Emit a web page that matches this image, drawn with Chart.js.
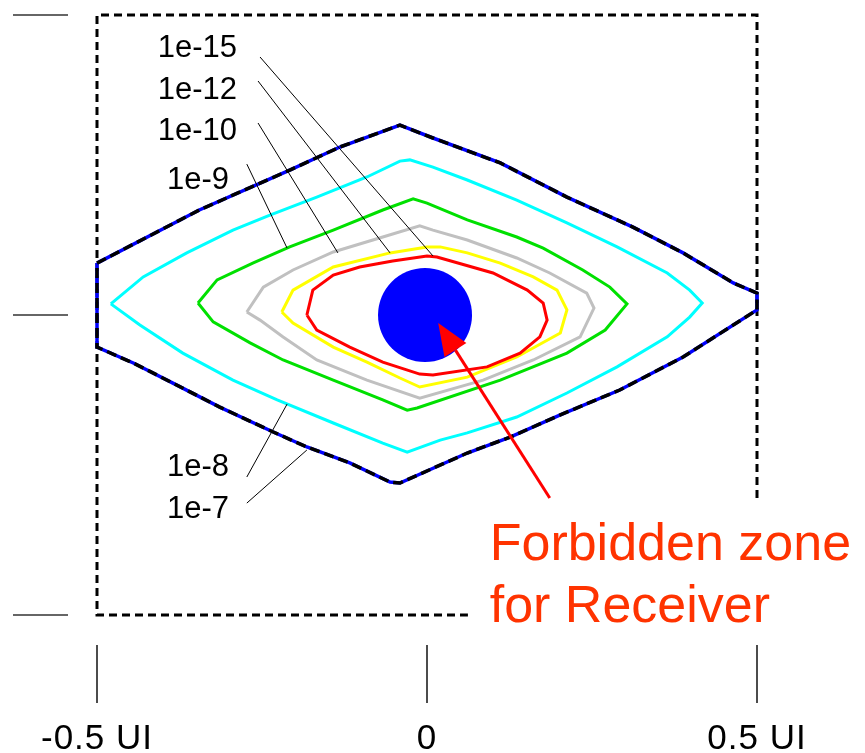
<!DOCTYPE html>
<html>
<head>
<meta charset="utf-8">
<script src="https://cdn.jsdelivr.net/npm/chart.js@4.4.0/dist/chart.umd.min.js"></script>
<style>
  html, body { margin: 0; padding: 0; background: #fff; }
</style>
</head>
<body>
<canvas id="eyeChart" width="865" height="753"></canvas>
<script>
// eye contours, x in UI and y in normalised amplitude (-1..1)
const ber7X = [-0.5, -0.345, -0.208, -0.132, -0.041, 0.009, 0.111, 0.212, 0.312, 0.388, 0.464, 0.5, 0.5, 0.388, 0.292, 0.202, 0.126, 0.061, -0.041, -0.056, -0.117, -0.182, -0.233, -0.314, -0.385, -0.445, -0.5, -0.5];
const ber7Y = [0.173, 0.35, 0.483, 0.56, 0.633, 0.59, 0.507, 0.393, 0.293, 0.207, 0.107, 0.073, 0.017, -0.14, -0.25, -0.333, -0.407, -0.46, -0.56, -0.557, -0.493, -0.44, -0.39, -0.307, -0.227, -0.16, -0.107, 0.173];

const ber8X = [-0.479, -0.43, -0.364, -0.294, -0.238, -0.167, -0.091, -0.041, -0.026, 0.009, 0.061, 0.136, 0.212, 0.288, 0.364, 0.398, 0.417, 0.398, 0.364, 0.288, 0.212, 0.136, 0.061, 0.02, -0.03, -0.067, -0.142, -0.227, -0.294, -0.37, -0.435, -0.479];
const ber8Y = [0.037, 0.127, 0.207, 0.283, 0.333, 0.393, 0.46, 0.513, 0.517, 0.493, 0.45, 0.383, 0.307, 0.227, 0.14, 0.083, 0.04, -0.007, -0.073, -0.173, -0.26, -0.34, -0.393, -0.417, -0.457, -0.427, -0.36, -0.283, -0.217, -0.127, -0.033, 0.037];

const ber9X = [-0.347, -0.318, -0.264, -0.208, -0.142, -0.067, -0.021, 0.0, 0.061, 0.136, 0.176, 0.236, 0.277, 0.303, 0.27, 0.212, 0.111, -0.015, -0.03, -0.067, -0.142, -0.218, -0.268, -0.324, -0.347];
const ber9Y = [0.04, 0.117, 0.173, 0.227, 0.283, 0.35, 0.387, 0.373, 0.317, 0.26, 0.223, 0.15, 0.093, 0.037, -0.05, -0.127, -0.217, -0.31, -0.317, -0.283, -0.217, -0.15, -0.093, -0.023, 0.04];

const ber10X = [-0.273, -0.248, -0.203, -0.142, -0.067, -0.011, 0.009, 0.061, 0.136, 0.186, 0.242, 0.253, 0.232, 0.161, 0.085, -0.011, -0.091, -0.167, -0.218, -0.253, -0.273];
const ber10Y = [0.01, 0.093, 0.15, 0.21, 0.26, 0.297, 0.283, 0.25, 0.19, 0.14, 0.073, 0.023, -0.073, -0.15, -0.217, -0.277, -0.217, -0.15, -0.073, -0.017, 0.01];

const ber12X = [-0.22, -0.203, -0.142, -0.056, 0.0, 0.02, 0.061, 0.111, 0.161, 0.197, 0.212, 0.202, 0.136, 0.061, -0.011, -0.041, -0.091, -0.142, -0.203, -0.22];
const ber12Y = [0.01, 0.083, 0.16, 0.207, 0.227, 0.227, 0.207, 0.173, 0.127, 0.083, 0.017, -0.06, -0.14, -0.207, -0.24, -0.21, -0.157, -0.107, -0.027, 0.01];

const ber15X = [-0.182, -0.173, -0.142, -0.102, -0.052, 0.0, 0.015, 0.1, 0.152, 0.176, 0.182, 0.171, 0.141, 0.091, 0.009, -0.011, -0.067, -0.117, -0.167, -0.182];
const ber15Y = [0.0, 0.083, 0.133, 0.16, 0.18, 0.197, 0.193, 0.14, 0.083, 0.04, -0.017, -0.073, -0.127, -0.173, -0.2, -0.197, -0.157, -0.107, -0.05, 0.0];

// receiver forbidden zone centre
const zoneX = [-0.003];
const zoneY = [0.0];

// outline of the eye mask box (open at the bottom right where the note sits)
const boxX = [0.5, 0.5, -0.5, -0.5, 0.062];
const boxY = [-0.61, 1, 1, -1, -1];

const berLabels = ['1e-15', '1e-12', '1e-10', '1e-9', '1e-8', '1e-7'];
const xTickValues = [-0.5, 0, 0.5];
const xTickLabels = ['-0.5 UI', '0', '0.5 UI'];
const yTickValues = [1, 0, -1];

function pts(xs, ys) {
    return xs.map((x, i) => ({ x: x, y: ys[i] }));
}

// where each BER label and its leader line sit (data coords)
const labelPlaces = {
    '1e-15': { tx: -0.408, ty: 0.86, x1: -0.253, y1: 0.86, x2: 0.009, y2: 0.197 },
    '1e-12': { tx: -0.408, ty: 0.72, x1: -0.256, y1: 0.78, x2: -0.056, y2: 0.207 },
    '1e-10': { tx: -0.408, ty: 0.583, x1: -0.256, y1: 0.64, x2: -0.135, y2: 0.207 },
    '1e-9': { tx: -0.394, ty: 0.42, x1: -0.273, y1: 0.503, x2: -0.212, y2: 0.223 },
    '1e-8': { tx: -0.394, ty: -0.537, x1: -0.273, y1: -0.54, x2: -0.212, y2: -0.297 },
    '1e-7': { tx: -0.394, ty: -0.677, x1: -0.273, y1: -0.627, x2: -0.182, y2: -0.45 },
};

const annotations = {
    id: 'annotations',
    afterDatasetsDraw(chart) {
        const ctx = chart.ctx;
        const xs = chart.scales.x;
        const ys = chart.scales.y;
        const area = chart.chartArea;
        const px = v => xs.getPixelForValue(v);
        const py = v => ys.getPixelForValue(v);

        ctx.save();

        // leader lines + BER labels
        ctx.strokeStyle = '#000';
        ctx.lineWidth = 1;
        ctx.fillStyle = '#000';
        ctx.font = '31px "Liberation Sans", Arial, sans-serif';
        ctx.textBaseline = 'alphabetic';
        ctx.textAlign = 'left';
        berLabels.forEach(name => {
            const p = labelPlaces[name];
            ctx.beginPath();
            ctx.moveTo(px(p.x1), py(p.y1));
            ctx.lineTo(px(p.x2), py(p.y2));
            ctx.stroke();
            ctx.fillText(name, px(p.tx), py(p.ty));
        });

        // red arrow to the forbidden zone
        const tailX = px(0.186), tailY = py(-0.61);
        const tipX = px(0.017), tipY = py(-0.027);
        const ang = Math.atan2(tipY - tailY, tipX - tailX);
        const headLen = 32, headW = 13;
        const baseX = tipX - headLen * Math.cos(ang);
        const baseY = tipY - headLen * Math.sin(ang);
        ctx.strokeStyle = '#ff0000';
        ctx.fillStyle = '#ff0000';
        ctx.lineWidth = 3;
        ctx.beginPath();
        ctx.moveTo(tailX, tailY);
        ctx.lineTo(baseX, baseY);
        ctx.stroke();
        ctx.beginPath();
        ctx.moveTo(tipX, tipY);
        ctx.lineTo(baseX + headW * Math.sin(ang), baseY - headW * Math.cos(ang));
        ctx.lineTo(baseX - headW * Math.sin(ang), baseY + headW * Math.cos(ang));
        ctx.closePath();
        ctx.fill();

        ctx.fillStyle = '#ff3300';
        ctx.font = '52px "Liberation Sans", Arial, sans-serif';
        ctx.fillText('Forbidden zone', px(0.095), py(-0.817));
        ctx.fillText('for Receiver', px(0.095), py(-1.023));

        // axis ticks
        ctx.strokeStyle = '#333';
        ctx.lineWidth = 1.5;
        yTickValues.forEach(v => {
            ctx.beginPath();
            ctx.moveTo(area.left - 84, py(v));
            ctx.lineTo(area.left - 29, py(v));
            ctx.stroke();
        });
        ctx.strokeStyle = '#111';
        xTickValues.forEach(v => {
            ctx.beginPath();
            ctx.moveTo(px(v), area.bottom + 30);
            ctx.lineTo(px(v), area.bottom + 88);
            ctx.stroke();
        });
        ctx.fillStyle = '#000';
        ctx.font = '35px "Liberation Sans", Arial, sans-serif';
        ctx.letterSpacing = '1px';
        ctx.textAlign = 'center';
        xTickValues.forEach((v, i) => {
            ctx.fillText(xTickLabels[i], px(v), area.bottom + 134);
        });
        ctx.restore();
    }
};

function contour(data, color, extra) {
    return Object.assign({
        type: 'line',
        data: data,
        borderColor: color,
        borderWidth: 3,
        pointRadius: 0,
        fill: false,
        tension: 0,
        clip: false,
    }, extra || {});
}

const ctx = document.getElementById('eyeChart').getContext('2d');

new Chart(ctx, {
    type: 'scatter',
    data: {
        datasets: [
            {
                type: 'scatter',
                data: pts(zoneX, zoneY),
                pointRadius: 47,
                pointHoverRadius: 47,
                backgroundColor: '#0000ff',
                borderColor: '#0000ff',
                borderWidth: 0,
                clip: false,
            },
            contour(pts(ber15X, ber15Y), '#ff0000'),
            contour(pts(ber12X, ber12Y), '#ffff00'),
            contour(pts(ber10X, ber10Y), '#c0c0c0'),
            contour(pts(ber9X, ber9Y), '#00e000'),
            contour(pts(ber8X, ber8Y), '#00ffff'),
            contour(pts(ber7X, ber7Y), '#000000', { borderDash: [10, 5], borderWidth: 3.5 }),
            contour(pts(ber7X, ber7Y), '#0000ff', { borderWidth: 3.5 }),
            contour(pts(boxX, boxY), '#000000', { borderDash: [8, 5], borderWidth: 3 }),
        ]
    },
    options: {
        responsive: false,
        animation: false,
        layout: {
            autoPadding: false,
            padding: { left: 97, right: 108, top: 15, bottom: 138 }
        },
        plugins: {
            legend: { display: false },
            tooltip: { enabled: false },
        },
        scales: {
            x: { type: 'linear', min: -0.5, max: 0.5, display: false },
            y: { type: 'linear', min: -1, max: 1, display: false },
        },
    },
    plugins: [annotations],
});
</script>
</body>
</html>
